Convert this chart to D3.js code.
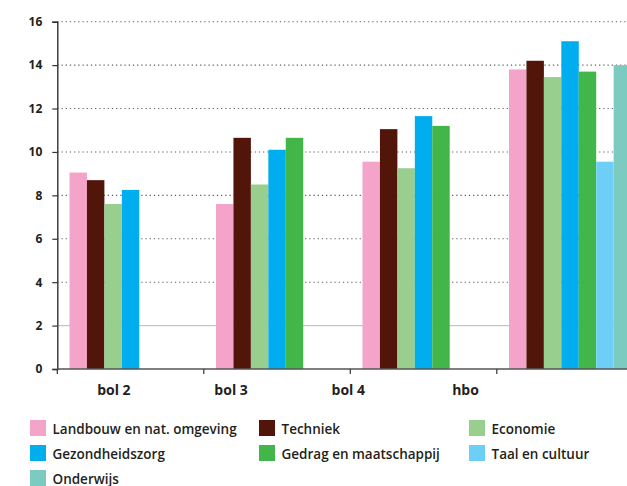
<!DOCTYPE html>
<html><head><meta charset="utf-8">
<script src="https://cdn.jsdelivr.net/npm/d3@7/dist/d3.min.js"></script>
<style>
html,body{margin:0;padding:0;background:#fff;}
svg{display:block;}
text{font-family:"Open Sans",sans-serif;fill:#231f20;}
</style></head>
<body>
<svg id="chart" width="627" height="486"></svg>
<script>
const categories = ["bol 2", "bol 3", "bol 4", "hbo"];
const labelSlots = ["bol 2", "bol 3", "bol 4", "hbo", ""];
const series = ["Landbouw en nat. omgeving", "Techniek", "Economie", "Gezondheidszorg", "Gedrag en maatschappij", "Taal en cultuur", "Onderwijs"];
const colors = ["#f4a3c9", "#52150a", "#98ce8e", "#00adee", "#43b649", "#6dcff6", "#7bcbc0"];
const landbouw = [9.05, 7.6, 9.55, 13.8];
const techniek = [8.7, 10.65, 11.05, 14.2];
const economie = [7.6, 8.5, 9.25, 13.45];
const gezondheidszorg = [8.25, 10.1, 11.65, 15.1];
const gedrag = [null, 10.65, 11.2, 13.7];
const taal = [null, null, null, 9.55];
const onderwijs = [null, null, null, 14.0];
const values = [landbouw, techniek, economie, gezondheidszorg, gedrag, taal, onderwijs];
const yTicks = [0, 2, 4, 6, 8, 10, 12, 14, 16];

const svg = d3.select("#chart");
const mLeft = 57.3, mRight = 643.3, mTop = 21.7, mBottom = 369;

const y = d3.scaleLinear().domain([0, 16]).range([mBottom, mTop]);
const x0 = d3.scaleBand().domain(categories).range([mLeft, mRight]).padding(0);
const x1 = d3.scaleBand().domain(series).range([0, x0.bandwidth()]).paddingInner(0).paddingOuter(0.7);
const xl = d3.scaleBand().domain(labelSlots).range([mLeft, mRight]).padding(0);

// gridlines
const grid = svg.append("g");
yTicks.filter(t => t > 0).forEach(t => {
  grid.append("line")
    .attr("x1", mLeft).attr("x2", 627)
    .attr("y1", y(t)).attr("y2", y(t))
    .attr("stroke", t === 2 ? "#c6c6c6" : "#5a5a5a")
    .attr("stroke-width", t === 2 ? 1.2 : 1.1)
    .attr("stroke-dasharray", t === 2 ? null : "1.2,3");
});

// bars
const groups = svg.append("g").selectAll("g").data(categories).join("g")
  .attr("transform", d => `translate(${x0(d)},0)`);
groups.each(function(cat, ci) {
  const data = series.map((s, si) => ({s, si, v: values[si][ci]})).filter(d => d.v !== null);
  d3.select(this).selectAll("rect").data(data).join("rect")
    .attr("x", d => x1(d.s))
    .attr("width", x1.bandwidth())
    .attr("y", d => y(d.v))
    .attr("height", d => y(0) - y(d.v))
    .attr("fill", d => colors[d.si]);
});

// y axis
const yAxis = svg.append("g").attr("transform", `translate(${mLeft},0)`)
  .call(d3.axisLeft(y).tickValues(yTicks).tickSize(5).tickPadding(10).tickFormat(d3.format("d")));
yAxis.select(".domain").attr("stroke", "#333").attr("stroke-width", 1.4);
yAxis.selectAll(".tick line").attr("stroke", "#333").attr("stroke-width", 1.2);
yAxis.selectAll(".tick text").attr("font-size", 12).attr("font-weight", 700)
  .attr("font-family", "'Open Sans',sans-serif").attr("fill", "#231f20");

// x axis
const xAxisG = svg.append("g").attr("transform", `translate(0,${mBottom})`);
xAxisG.append("line").attr("x1", mLeft).attr("x2", 627).attr("y1", 0).attr("y2", 0)
  .attr("stroke", "#555").attr("stroke-width", 1.6);
xAxisG.selectAll("line.tk").data(categories).join("line").attr("class", "tk")
  .attr("x1", d => x0(d)).attr("x2", d => x0(d)).attr("y1", 0).attr("y2", 5)
  .attr("stroke", "#333").attr("stroke-width", 1.2);
xAxisG.selectAll("text").data(categories).join("text")
  .attr("x", d => xl(d) + xl.bandwidth() / 2 - 2)
  .attr("y", 26)
  .attr("text-anchor", "middle")
  .attr("font-size", 14).attr("font-weight", 700)
  .text(d => d);

// legend
const legCols = [30, 259, 469], legRows = [420, 445, 470];
const leg = svg.append("g").selectAll("g").data(series).join("g")
  .attr("transform", (d, i) => `translate(${legCols[i % 3]},${legRows[Math.floor(i / 3)]})`);
leg.append("rect").attr("width", 16).attr("height", 16).attr("fill", (d, i) => colors[i]);
leg.append("text").attr("x", 22.5).attr("y", 13.5)
  .attr("font-size", 13.5).attr("font-weight", 600).text(d => d);
</script>
</body></html>
